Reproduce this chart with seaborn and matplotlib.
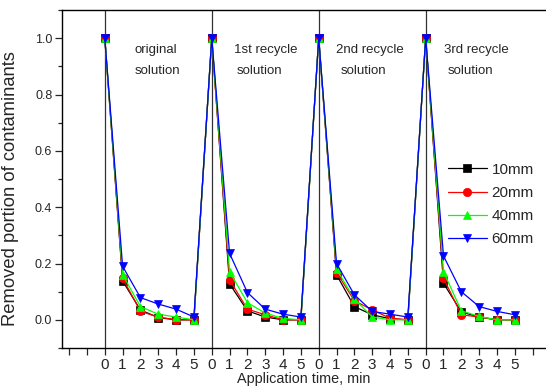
import numpy as np
import pandas as pd
import matplotlib
matplotlib.use("Agg")
import matplotlib.pyplot as plt
import seaborn as sns

# ---- data ----
group_labels = ["original", "1st recycle", "2nd recycle", "3rd recycle"]
times = [0, 1, 2, 3, 4, 5]
series_names = ["10mm", "20mm", "40mm", "60mm"]

v10 = [1.0, 0.138, 0.035, 0.008, 0.0, 0.0,
       1.0, 0.128, 0.032, 0.010, 0.0, 0.0,
       1.0, 0.160, 0.047, 0.018, 0.004, 0.0,
       1.0, 0.130, 0.028, 0.010, 0.0, 0.0]
v20 = [1.0, 0.148, 0.030, 0.010, 0.0, 0.0,
       1.0, 0.142, 0.038, 0.018, 0.0, 0.0,
       1.0, 0.168, 0.068, 0.035, 0.006, 0.0,
       1.0, 0.148, 0.018, 0.010, 0.0, 0.0]
v40 = [1.0, 0.160, 0.047, 0.020, 0.010, 0.0,
       1.0, 0.171, 0.061, 0.024, 0.005, 0.0,
       1.0, 0.180, 0.074, 0.010, 0.0, 0.0,
       1.0, 0.171, 0.032, 0.012, 0.0, 0.0]
v60 = [1.0, 0.190, 0.079, 0.056, 0.038, 0.010,
       1.0, 0.236, 0.097, 0.038, 0.020, 0.010,
       1.0, 0.200, 0.089, 0.030, 0.020, 0.010,
       1.0, 0.227, 0.100, 0.047, 0.030, 0.018]

colors = ["#000000", "#ff0000", "#00ff00", "#0000ff"]
markers = ["s", "o", "^", "v"]

pos = np.arange(len(v10))
df = pd.DataFrame({"pos": np.tile(pos, 4),
                   "value": v10 + v20 + v40 + v60,
                   "series": np.repeat(series_names, len(v10))})

sns.set_style("ticks")
plt.rcParams["font.family"] = ["Liberation Sans", "DejaVu Sans"]
plt.rcParams["xtick.direction"] = "out"
plt.rcParams["ytick.direction"] = "out"

W, H = 546, 392
fig = plt.figure(figsize=(W / 100, H / 100), dpi=100)
ax = fig.add_axes([62 / W, 1 - 348 / H, 484 / W, 338 / H])

for i in range(0, 24, 6):
    ax.axvline(i, color="#333333", lw=0.9, zorder=1)

for name, c, m in zip(series_names, colors, markers):
    sub = df[df["series"] == name]
    sns.lineplot(data=sub, x="pos", y="value", ax=ax, color=c, marker=m,
                 markersize=6, markeredgecolor=c, markeredgewidth=0.5,
                 lw=0.9, label=name, zorder=3)

ax.set_xlim(-2.4, 24.75)
ax.set_ylim(-0.1, 1.1)
ax.set_xticks(np.arange(-2, 25))
ax.set_xticklabels([str(p % 6) if 0 <= p <= 23 else "" for p in range(-2, 25)])
ax.set_yticks(np.arange(0, 1.01, 0.2))
ax.set_yticklabels([f"{v:.1f}" for v in np.arange(0, 1.01, 0.2)])
ax.set_yticks(np.arange(-0.1, 1.1, 0.1), minor=True)
ax.tick_params(axis="x", labelsize=11, length=5, width=0.9, pad=2)
ax.tick_params(axis="y", which="major", labelsize=9, length=5, width=0.9, pad=2)
ax.tick_params(axis="y", which="minor", length=3, width=0.9)
for s in ["left", "bottom", "top"]:
    ax.spines[s].set_linewidth(1.0)
    ax.spines[s].set_color("black")
ax.spines["right"].set_visible(False)

ax.set_xlabel("Application time, min", fontsize=10.4, labelpad=0)
ax.set_ylabel("Removed portion of contaminants", fontsize=13.2)
ax.yaxis.set_label_coords(-0.0888, 0.472)

# annotations
ann = [("original", 1.68, "solution", 1.68),
       ("1st recycle", 7.25, "solution", 7.42),
       ("2nd recycle", 12.96, "solution", 13.22),
       ("3rd recycle", 19.01, "solution", 19.22)]
for t1, x1, t2, x2 in ann:
    ax.text(x1, 0.957, t1, fontsize=9.5, ha="left", va="center")
    ax.text(x2, 0.884, t2, fontsize=9.5, ha="left", va="center")

leg = ax.legend(loc="center left", bbox_to_anchor=(448 / W, 1 - 204.5 / H),
                bbox_transform=fig.transFigure, frameon=False, fontsize=11,
                handlelength=2.55, handletextpad=0.3, labelspacing=0.6,
                borderpad=0, borderaxespad=0)

fig.savefig("out.png", dpi=100)
